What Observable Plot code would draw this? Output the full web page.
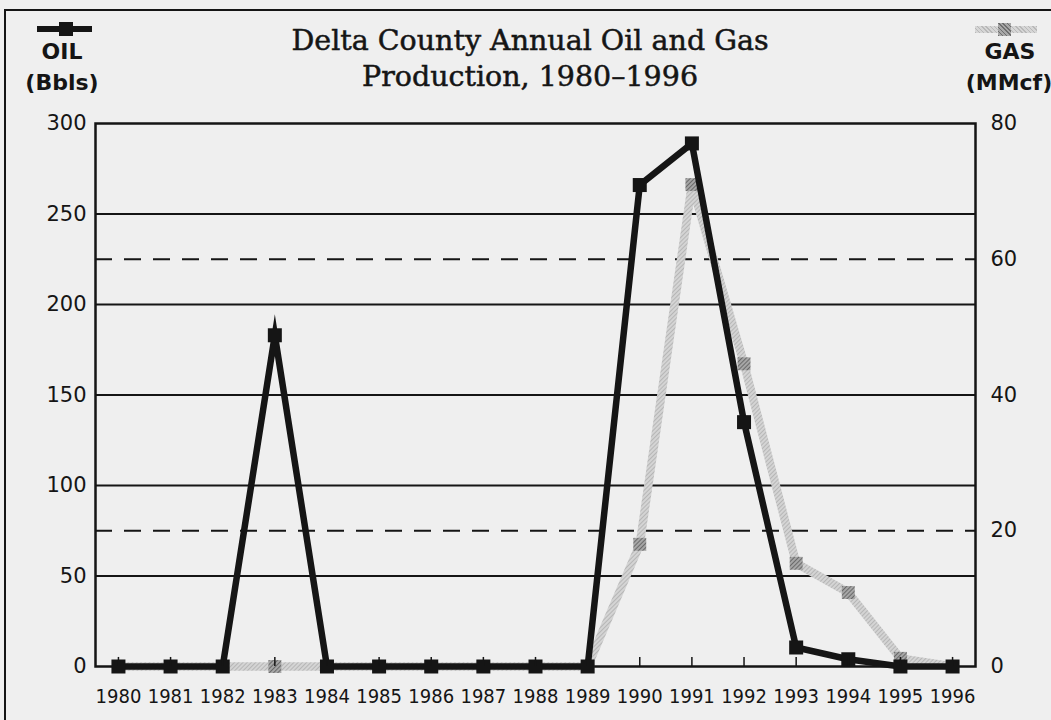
<!DOCTYPE html>
<html><head><meta charset="utf-8">
<script src="https://cdn.jsdelivr.net/npm/d3@7"></script>
<script src="https://cdn.jsdelivr.net/npm/@observablehq/plot@0.6"></script>
<style>
body{margin:0;background:#efefef;}
#wrap{position:relative;width:1051px;height:720px;overflow:hidden;background:#efefef;}
#border{position:absolute;left:4px;top:9px;width:1200px;height:900px;border-left:2px solid #151515;border-top:2px solid #151515;}
#chart{position:absolute;left:0;top:0;}
.title{position:absolute;left:0;width:1060px;text-align:center;font-family:"DejaVu Serif",serif;font-size:28.5px;line-height:32px;color:#151515;white-space:nowrap;-webkit-text-stroke:0.5px #151515;}
.lab{position:absolute;width:110px;font-family:"DejaVu Sans",sans-serif;font-weight:bold;font-size:22px;line-height:22px;text-align:center;color:#151515;}
.sw{position:absolute;}
</style></head>
<body>
<div id="wrap">
  <div id="border"></div>
  <div id="chart"></div>
  <div class="title" id="t1" style="top:25px"></div>
  <div class="title" id="t2" style="top:61px"></div>
  <div class="sw" style="left:37px;top:26px;width:55px;height:6px;background:#151515"></div>
  <div class="sw" style="left:59px;top:22px;width:14px;height:14px;background:#151515"></div>
  <div class="sw" style="left:975px;top:26px;width:62px;height:7px;background:repeating-linear-gradient(45deg,#b8b8b8 0 1px,#d6d6d6 1px 3px)"></div>
  <div class="sw" style="left:998px;top:23px;width:13px;height:13px;background:repeating-linear-gradient(45deg,#6e6e6e 0 1px,#a8a8a8 1px 3px)"></div>
  <div class="lab" id="l1" style="left:7px;top:41px"></div>
  <div class="lab" id="l2" style="left:7px;top:72px"></div>
  <div class="lab" id="r1" style="left:955px;top:41px"></div>
  <div class="lab" id="r2" style="left:954px;top:72px"></div>
</div>
<script>
// ---- data ----
const titleLines = ["Delta County Annual Oil and Gas", "Production, 1980\u20131996"];
const oilLabel = ["OIL", "(Bbls)"];
const gasLabel = ["GAS", "(MMcf)"];
const years = [1980,1981,1982,1983,1984,1985,1986,1987,1988,1989,1990,1991,1992,1993,1994,1995,1996];
const oil   = [0,0,0,183,0,0,0,0,0,0,266,289,135,10.5,4,0,0];
const gas   = [0,0,0,0,0,0,0,0,0,0,18,71,44.6,15.2,10.9,1.2,0];
const oilTicks = [0,50,100,150,200,250,300];
const gasTicks = [0,20,40,60,80];
const oilGridSolid = [50,100,150,200,250];
const gasGridDashed = [20,60];
const oilMax = 300, gasMax = 80;

document.getElementById("t1").textContent = titleLines[0];
document.getElementById("t2").textContent = titleLines[1];
document.getElementById("l1").textContent = oilLabel[0];
document.getElementById("l2").textContent = oilLabel[1];
document.getElementById("r1").textContent = gasLabel[0];
document.getElementById("r2").textContent = gasLabel[1];

const k = oilMax / gasMax;
const oilData = years.map((y, i) => ({year: y, v: oil[i]}));
const gasData = years.map((y, i) => ({year: y, v: gas[i] * k}));

const defsMark = () => {
  const ns = "http://www.w3.org/2000/svg";
  const g = document.createElementNS(ns, "g");
  g.innerHTML = `<defs>
    <pattern id="hatch" patternUnits="userSpaceOnUse" width="3" height="3" patternTransform="rotate(45)">
      <rect width="3" height="3" fill="#d4d4d4"/><rect width="1" height="3" fill="#b6b6b6"/>
    </pattern>
    <pattern id="hatchDark" patternUnits="userSpaceOnUse" width="3" height="3" patternTransform="rotate(45)">
      <rect width="3" height="3" fill="#a6a6a6"/><rect width="1" height="3" fill="#6a6a6a"/>
    </pattern></defs>`;
  return g;
};

const W = 1051, H = 720, L = 95, R = 975, T = 123, B = 666;
const ink = "#151515";
const plot = Plot.plot({
  width: W, height: H,
  marginLeft: L, marginRight: W - R, marginTop: T, marginBottom: H - B,
  style: {background: "transparent", color: ink, fontFamily: "DejaVu Sans, sans-serif"},
  x: {domain: [1979.56, 1996.44]},
  y: {domain: [0, oilMax]},
  marks: [
    defsMark,
    Plot.ruleY(oilGridSolid, {stroke: ink, strokeWidth: 2}),
    Plot.ruleY(gasGridDashed.map(g => g * k), {stroke: ink, strokeWidth: 2, strokeDasharray: "17,12"}),
    Plot.frame({stroke: ink, strokeWidth: 2.5}),
    Plot.lineY(gasData, {x: "year", y: "v", stroke: "url(#hatch)", strokeWidth: 8.5, strokeLinejoin: "miter"}),
    Plot.dot(gasData, {x: "year", y: "v", symbol: "square", r: 7.3, fill: "url(#hatchDark)", stroke: "none"}),
    Plot.lineY(oilData, {x: "year", y: "v", stroke: ink, strokeWidth: 6.5, strokeLinejoin: "miter", strokeMiterlimit: 8}),
    Plot.dot(oilData, {x: "year", y: "v", symbol: "square", r: 7.9, fill: ink, stroke: "none"}),
    Plot.ruleX(years, {x: d => d, y1: 0, y2: 5, stroke: ink, strokeWidth: 1.5}),
    Plot.axisX(years, {anchor: "bottom", tickSize: 0, tickPadding: 22, tickFormat: d => String(d),
      fontSize: 20, fontFamily: "DejaVu Sans Condensed, DejaVu Sans, sans-serif", fontStretch: "condensed", label: null}),
    Plot.axisY(oilTicks, {anchor: "left", tickSize: 0, tickPadding: 9, fontSize: 21, label: null}),
    Plot.axisY(gasTicks.map(g => g * k), {anchor: "right", tickSize: 0, tickPadding: 15, fontSize: 21,
      tickFormat: d => String(Math.round(d / k)), label: null})
  ]
});
document.getElementById("chart").appendChild(plot);
</script>
</body></html>
